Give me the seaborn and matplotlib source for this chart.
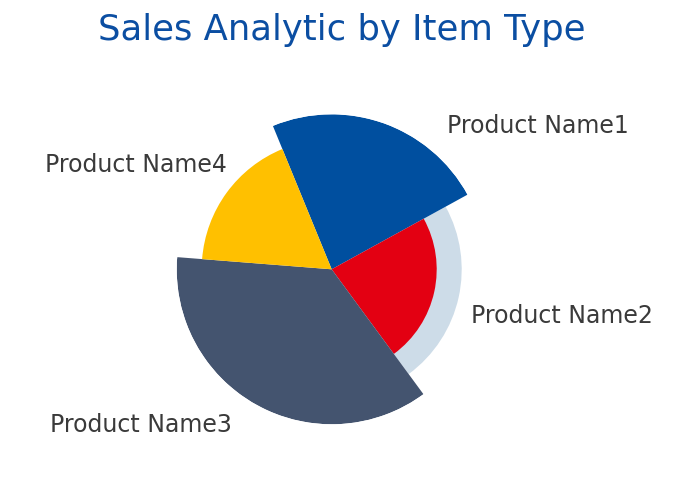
import numpy as np
import matplotlib
matplotlib.use("Agg")
import matplotlib.pyplot as plt
import seaborn as sns

# ---- data ----
categories = ["Product Name1", "Product Name2", "Product Name3", "Product Name4"]
shares = [83.5, 82.5, 130.8, 63.2]          # angular share of each slice
radius_values = [155, 105, 155, 130]         # variable radius value of each slice
background_values = [0, 130, 0, 0]           # light background ring behind slice
colors = ["#004F9F", "#E30012", "#44546F", "#FFC000"]
bg_color = "#CDDCE8"
title = "Sales Analytic by Item Type"

sns.set_theme(style="white")
plt.rcParams["font.family"] = ["DejaVu Sans"]

W, H = 690, 499
fig = plt.figure(figsize=(W / 100, H / 100), dpi=100)

cx, cy, R = 331.7, 269.3, 155
ax = fig.add_axes([(cx - R) / W, (H - cy - R) / H, 2 * R / W, 2 * R / H], projection="polar")

shares_arr = np.array(shares, dtype=float)
widths = shares_arr / shares_arr.sum() * 2 * np.pi
starts = np.concatenate([[0], np.cumsum(widths)[:-1]])

ax.set_theta_offset(np.deg2rad(112.3))
ax.set_theta_direction(-1)

ax.bar(starts, background_values, width=widths, bottom=0, align="edge",
       color=bg_color, edgecolor="none", linewidth=0)
ax.bar(starts, radius_values, width=widths, bottom=0, align="edge",
       color=colors, edgecolor="none", linewidth=0)

ax.set_ylim(0, max(radius_values))
ax.set_axis_off()

# labels
label_pos = [(447, 126), (471, 316), (50, 425), (45, 165)]
for name, (px, py) in zip(categories, label_pos):
    fig.text(px / W, 1 - py / H, name, ha="left", va="center",
             fontsize=17, color="#3A3A3A")

fig.text(342 / W, 1 - 30 / H, title, ha="center", va="center",
         fontsize=25.5, color="#0B4EA2")

fig.savefig("out.png", dpi=100, facecolor="white")
